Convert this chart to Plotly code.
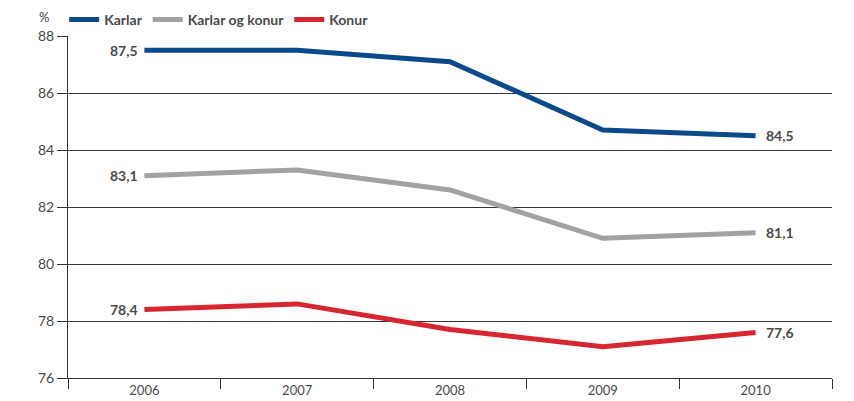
import plotly.graph_objects as go

years = ["2006", "2007", "2008", "2009", "2010"]
karlar = [87.5, 87.5, 87.1, 84.7, 84.5]
karlar_og_konur = [83.1, 83.3, 82.6, 80.9, 81.1]
konur = [78.4, 78.6, 77.7, 77.1, 77.6]
series_names = ["Karlar", "Karlar og konur", "Konur"]
colors = ["#0b4a8a", "#a2a2a4", "#d7262f"]
y_ticks = [76, 78, 80, 82, 84, 86, 88]

FONT = "Lato, 'Open Sans', sans-serif"
TXT = "#4a4a4a"

fig = go.Figure()
for name, vals, col in zip(series_names, [karlar, karlar_og_konur, konur], colors):
    fig.add_trace(go.Scatter(x=years, y=vals, name=name, mode="lines",
                             line=dict(color=col, width=5)))

def fmt(v):
    return f"{v:.1f}".replace(".", ",")

last = len(years) - 1
for vals in [karlar, karlar_og_konur, konur]:
    fig.add_annotation(x=0, y=vals[0], text=fmt(vals[0]), showarrow=False,
                       xanchor="right", xshift=-4,
                       font=dict(family=FONT, size=14, color=TXT, weight="bold"))
    fig.add_annotation(x=last, y=vals[-1], text=fmt(vals[-1]), showarrow=False,
                       xanchor="left", xshift=8,
                       font=dict(family=FONT, size=14, color=TXT, weight="bold"))

fig.add_annotation(xref="paper", yref="paper", x=-0.022, y=1.0, yshift=19,
                   text="%", showarrow=False, xanchor="right", yanchor="middle",
                   font=dict(family=FONT, size=13, color=TXT))

fig.update_layout(
    width=854, height=401,
    margin=dict(l=60, r=30, t=28, b=31, autoexpand=False),
    plot_bgcolor="white", paper_bgcolor="white",
    font=dict(family=FONT, size=13, color=TXT),
    showlegend=True,
    legend=dict(orientation="h", x=-0.005, y=1.0, yanchor="bottom", xanchor="left",
                font=dict(family=FONT, size=14, color=TXT, weight="bold"),
                itemwidth=30, tracegroupgap=0),
    xaxis=dict(type="category", tickson="boundaries", ticks="outside", ticklen=10,
               tickcolor="#333", showgrid=False, showline=True, linecolor="#333",
               linewidth=1, zeroline=False, range=[-0.5, 4.5], automargin=False,
               tickfont=dict(family=FONT, size=13, color=TXT)),
    yaxis=dict(range=[76, 88], tickvals=y_ticks, ticks="outside", ticklen=10,
               tickcolor="#333", showgrid=True, gridcolor="#333", gridwidth=1,
               showline=True, linecolor="#333", linewidth=1, zeroline=False,
               automargin=False,
               tickfont=dict(family=FONT, size=14, color=TXT)),
)

fig.write_html("out.html")
